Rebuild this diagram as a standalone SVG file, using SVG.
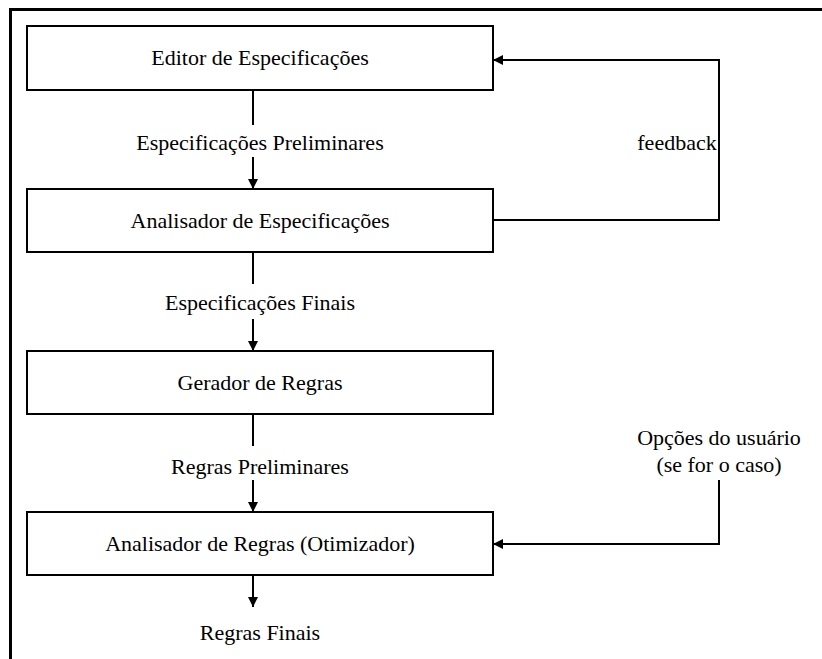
<svg xmlns="http://www.w3.org/2000/svg" width="822" height="659" viewBox="0 0 822 659">
<defs>
<style>
.box{fill:#fff;stroke:#000;stroke-width:2}
.t{font-family:Tinos,'Liberation Serif','Times New Roman','Nimbus Roman','DejaVu Serif',serif;font-size:22px;fill:#000;text-anchor:middle}
.c{fill:none;stroke:#000;stroke-width:2}
</style>
<marker id="ah" viewBox="0 0 10 10" refX="10" refY="5" markerWidth="10" markerHeight="10" markerUnits="userSpaceOnUse" orient="auto">
<path d="M0,0 L10,5 L0,10 Z" fill="#000"/>
</marker>
</defs>
<rect width="822" height="659" fill="#fff"/>
<path d="M10.5,659 V9.5 H822" fill="none" stroke="#000" stroke-width="3"/>
<g id="n1"><rect class="box" x="27" y="26" width="466" height="64"/><text class="t" x="260" y="65">Editor de Especificações</text></g>
<g id="n2"><rect class="box" x="27" y="189" width="466" height="63"/><text class="t" x="260" y="228">Analisador de Especificações</text></g>
<g id="n3"><rect class="box" x="27" y="351" width="466" height="63"/><text class="t" x="260" y="390">Gerador de Regras</text></g>
<g id="n4"><rect class="box" x="27" y="512" width="466" height="63"/><text class="t" x="260" y="551">Analisador de Regras (Otimizador)</text></g>
<g id="connectors">
<path class="c" d="M253,90 V125"/>
<path class="c" d="M253,157 V189" marker-end="url(#ah)"/>
<path class="c" d="M493,220 H719 V60 H493" marker-end="url(#ah)"/>
<path class="c" d="M253,252 V284"/>
<path class="c" d="M253,319 V351" marker-end="url(#ah)"/>
<path class="c" d="M253,414 V446"/>
<path class="c" d="M253,480 V512" marker-end="url(#ah)"/>
<path class="c" d="M719,480 V544 H493" marker-end="url(#ah)"/>
<path class="c" d="M253,575 V607" marker-end="url(#ah)"/>
</g>
<g id="labels">
<text class="t" x="260" y="150">Especificações Preliminares</text>
<text class="t" x="677" y="150">feedback</text>
<text class="t" x="260" y="310">Especificações Finais</text>
<text class="t" x="260" y="474">Regras Preliminares</text>
<text class="t" x="719" y="445">Opções do usuário</text>
<text class="t" x="719" y="472">(se for o caso)</text>
<text class="t" x="260" y="640">Regras Finais</text>
</g>
</svg>
